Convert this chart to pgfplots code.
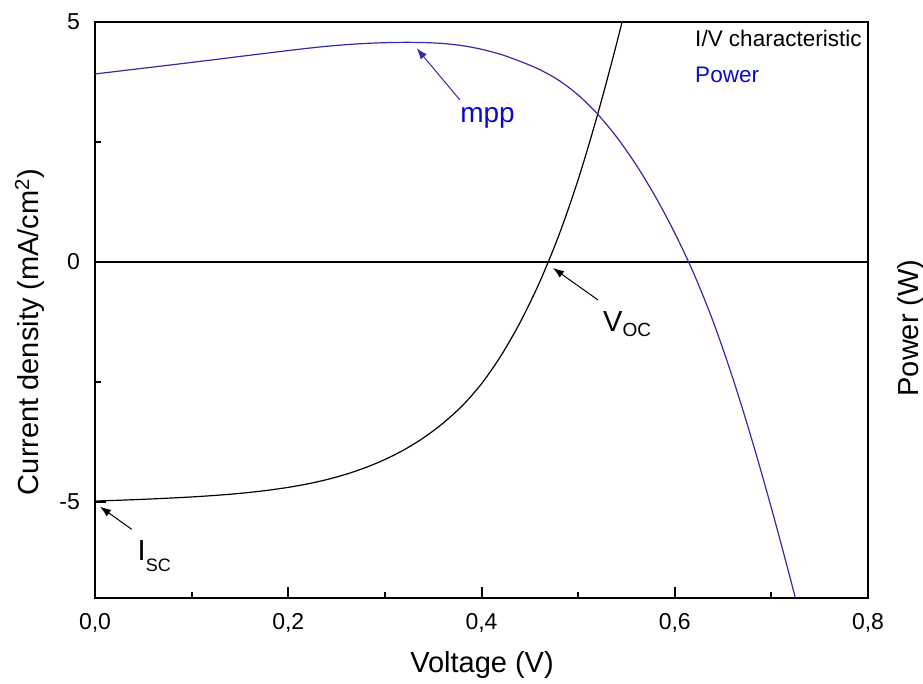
\documentclass[border=0pt]{standalone}
\usepackage{fontspec}
\setmainfont{Liberation Sans}
\usepackage{pgfplots}
\pgfplotsset{compat=1.18}
\usetikzlibrary{arrows.meta}
\definecolor{curveblue}{RGB}{45,45,165}
\definecolor{textblue}{RGB}{10,10,205}
\newcommand{\tl}{\fontsize{23}{23}\selectfont}
\begin{document}
\begin{tikzpicture}
\path[use as bounding box] (0pt,0pt) rectangle (923pt,684pt);
\begin{axis}[
 at={(95pt,86pt)}, anchor=south west,
 scale only axis, width=773pt, height=576pt,
 xmin=0, xmax=0.8, ymin=-7, ymax=5,
 xtick={0,0.2,0.4,0.6,0.8}, xticklabels={{0,0},{0,2},{0,4},{0,6},{0,8}},
 minor xtick={0.1,0.3,0.5,0.7},
 ytick={-5,0,5}, yticklabels={{-5},{0},{5}},
 minor ytick={-2.5,2.5},
 xtick pos=left, ytick pos=left,
 tick align=inside,
 major tick length=11pt, minor tick length=6pt,
 tick style={line width=2pt, black},
 axis line style={line width=2.2pt},
 xticklabel style={font=\tl, inner sep=0pt, yshift=-15pt},
 yticklabel style={font=\tl, inner sep=0pt, xshift=-15pt},
 xlabel={Voltage (V)},
 ylabel={Current density (mA/cm\textsuperscript{2})},
 label style={font=\fontsize{29}{29}\selectfont},
 xlabel style={at={(axis description cs:0.5007,-0.1285)}, anchor=base},
 ylabel style={at={(axis description cs:-0.0737,0.4618)}, anchor=base},
]
% zero line
\addplot[black, line width=2.2pt] coordinates {(0,0) (0.8,0)};
% I/V characteristic
\addplot[black, line width=1.2pt, smooth] coordinates {
(0.00,-4.980) (0.02,-4.967) (0.04,-4.952) (0.06,-4.935) (0.08,-4.916)
(0.10,-4.895) (0.12,-4.869) (0.14,-4.838) (0.16,-4.800) (0.18,-4.753)
(0.20,-4.695) (0.22,-4.623) (0.24,-4.533) (0.26,-4.421) (0.28,-4.283)
(0.30,-4.115) (0.32,-3.911) (0.34,-3.663) (0.36,-3.362) (0.38,-2.997)
(0.40,-2.537) (0.42,-1.957) (0.44,-1.257) (0.46,-0.427) (0.48,0.553)
(0.50,1.713) (0.52,3.063) (0.54,4.563) (0.56,6.183)
};
% Power
\addplot[curveblue, line width=1.2pt, smooth] coordinates {
(0.00,3.917) (0.02,3.965) (0.04,4.013) (0.06,4.061) (0.08,4.109)
(0.10,4.158) (0.12,4.207) (0.14,4.257) (0.16,4.307) (0.18,4.356)
(0.20,4.405) (0.22,4.452) (0.24,4.494) (0.26,4.528) (0.28,4.553)
(0.30,4.569) (0.32,4.576) (0.34,4.572) (0.36,4.552) (0.38,4.508)
(0.40,4.432) (0.42,4.325) (0.44,4.180) (0.46,4.010) (0.48,3.785)
(0.50,3.480) (0.52,3.085) (0.54,2.600) (0.56,2.025) (0.58,1.360)
(0.60,0.605) (0.62,-0.255) (0.64,-1.255) (0.66,-2.415) (0.68,-3.715)
(0.70,-5.125) (0.72,-6.625) (0.74,-8.195)
};
% annotations
\draw[-{Latex[length=11pt,width=8pt]}, line width=1pt, curveblue] (axis cs:0.3777,3.375) -- (axis cs:0.3329,4.452);
\node[anchor=base, text=textblue, font=\fontsize{28}{28}\selectfont] at (axis cs:0.4062,2.896) {mpp};
\draw[-{Latex[length=11pt,width=8pt]}, line width=1pt, black] (axis cs:0.5206,-0.792) -- (axis cs:0.474,-0.125);
\node[anchor=base west, inner sep=0pt] at (axis cs:0.5257,-1.458) {\fontsize{29}{29}\selectfont V\raisebox{-5pt}{\fontsize{19}{19}\selectfont OC}};
\draw[-{Latex[length=11pt,width=8pt]}, line width=1pt, black] (axis cs:0.038,-5.569) -- (axis cs:0.0052,-5.098);
\node[anchor=base west, inner sep=0pt] at (axis cs:0.044,-6.229) {\fontsize{29}{29}\selectfont I\raisebox{-11pt}{\fontsize{18}{18}\selectfont SC}};
% legend texts
\node[anchor=base west, inner sep=0pt, font=\fontsize{22.5}{22.5}\selectfont] at (axis cs:0.621,4.479) {I/V characteristic};
\node[anchor=base west, inner sep=0pt, text=textblue, font=\fontsize{22.5}{22.5}\selectfont] at (axis cs:0.621,3.735) {Power};
\end{axis}
\node[rotate=90, anchor=base, font=\fontsize{29}{29}\selectfont] at (918pt,356pt) {Power (W)};
\end{tikzpicture}
\end{document}
